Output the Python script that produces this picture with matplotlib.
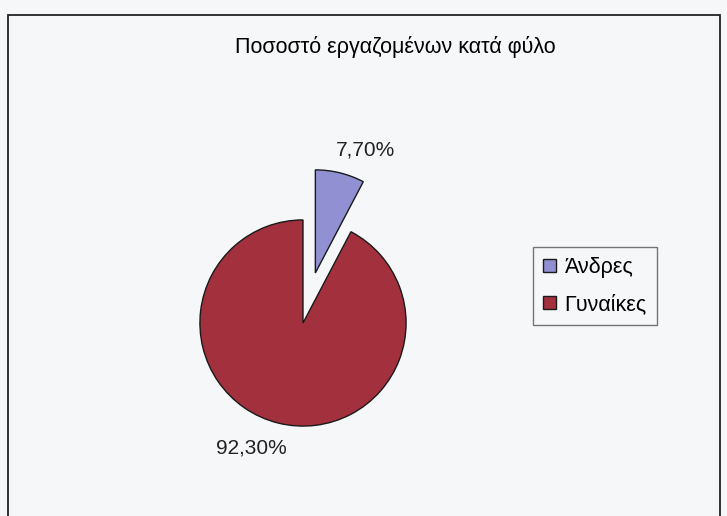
import matplotlib.pyplot as plt
from matplotlib.patches import Rectangle

plt.rcParams['font.family'] = ['Liberation Sans', 'DejaVu Sans']

titlos = 'Ποσοστό εργαζομένων κατά φύλο'
fyla = ['Άνδρες', 'Γυναίκες']
pososta = [7.70, 92.30]
xromata = ['#9090d2', '#a3303d']


def main():
    fig = plt.figure(figsize=(7.27, 5.16), dpi=100)
    fig.patch.set_facecolor('#f5f7f9')

    # frame of the chart area
    fig.patches.append(Rectangle((8 / 727, -0.05), 712 / 727, 1.05 - 15 / 516,
                                 transform=fig.transFigure, fill=False,
                                 edgecolor='#222222', linewidth=1.3))

    fig.text(395 / 727, 1 - 47 / 516, titlos, ha='center', va='center', fontsize=15.5)

    ax = fig.add_axes([169 / 727, 59 / 516, 268 / 727, 268 / 516])
    ax.set_facecolor('none')
    wedges, _ = ax.pie(pososta, colors=xromata, startangle=90, counterclock=False,
                       explode=[0.5, 0], radius=1,
                       wedgeprops={'edgecolor': '#1a1a1a', 'linewidth': 1.0})
    ax.set_xlim(-1.3, 1.3)
    ax.set_ylim(-1.3, 1.3)
    ax.set_aspect('equal')
    ax.axis('off')

    etiketes = [('%.2f%%' % v).replace('.', ',') for v in pososta]
    ax.text(0.61, 1.68, etiketes[0], ha='center', va='center', fontsize=15,
            color='#222222', clip_on=False)
    ax.text(-0.50, -1.21, etiketes[1], ha='center', va='center', fontsize=15,
            color='#222222', clip_on=False)

    leg = fig.legend(wedges, fyla, loc='center', bbox_to_anchor=(595 / 727, 1 - 286 / 516),
                     fontsize=15.5, frameon=True, fancybox=False, handlelength=0.6,
                     handleheight=0.6, handletextpad=0.4, borderpad=0.45, labelspacing=0.75,
                     borderaxespad=0)
    leg.get_frame().set_edgecolor('#555555')
    leg.get_frame().set_facecolor('#f5f7f9')
    leg.get_frame().set_linewidth(1.0)

    fig.savefig('out.png', dpi=100, facecolor=fig.get_facecolor())


main()
